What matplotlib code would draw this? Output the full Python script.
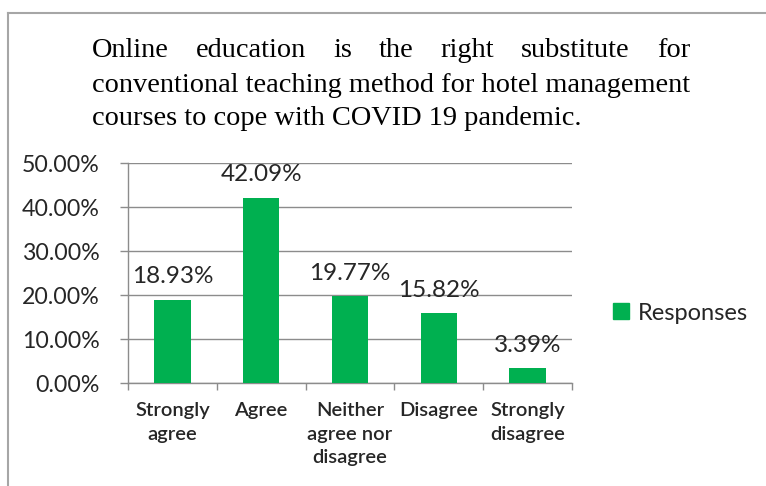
import matplotlib
matplotlib.use("Agg")
import matplotlib.pyplot as plt
from matplotlib.lines import Line2D
from matplotlib.patches import Patch
from matplotlib.ticker import FuncFormatter

categories = ["Strongly\nagree", "Agree", "Neither\nagree nor\ndisagree", "Disagree", "Strongly\ndisagree"]
values = [18.93, 42.09, 19.77, 15.82, 3.39]
yticks = [0, 10, 20, 30, 40, 50]
series_name = "Responses"
title_lines = ["Online education is the right substitute for",
               "conventional teaching method for hotel management",
               "courses to cope with COVID 19 pandemic."]

W, H = 766, 486
fig = plt.figure(figsize=(W / 100, H / 100), dpi=100)
fig.patch.set_facecolor("white")

green = "#00B050"
grid_c = "#8C8C8C"
sans = ["Lato", "DejaVu Sans"]
serif = ["Liberation Serif", "DejaVu Serif"]

ax = fig.add_axes([128 / W, 1 - 383 / H, (572 - 128) / W, (383 - 163) / H])
x = list(range(len(values)))
bars = ax.bar(x, values, width=0.41, color=green, zorder=3)
ax.set_xlim(-0.5, len(values) - 0.5)
ax.set_ylim(0, 50)
ax.set_yticks(yticks)
ax.yaxis.set_major_formatter(FuncFormatter(lambda v, p: f"{v:.2f}%"))
ax.yaxis.grid(True, color=grid_c, linewidth=1.0, zorder=0)
for s in ["top", "right"]:
    ax.spines[s].set_visible(False)
for s in ["left", "bottom"]:
    ax.spines[s].set_color(grid_c)
    ax.spines[s].set_linewidth(1.0)
ax.tick_params(axis="y", direction="out", length=5.8, color=grid_c, width=1.0,
               labelsize=16.7, labelcolor="#262626", pad=14.4)
for t in ax.get_yticklabels():
    t.set_family(sans)

# x ticks at category boundaries, labels at centers
ax.set_xticks([i - 0.5 for i in range(len(values) + 1)])
ax.set_xticklabels([])
ax.tick_params(axis="x", direction="out", length=5, color=grid_c, width=1.0)
ax.set_xticks(x, minor=True)
ax.set_xticklabels(categories, minor=True, family=sans, fontsize=14.5, fontweight="semibold",
                   color="#262626", linespacing=1.45, va="top")
ax.tick_params(axis="x", which="minor", length=0, pad=14)

for xi, v in zip(x, values):
    ax.annotate(f"{v:.2f}%", (xi, v), xytext=(0, 9), textcoords="offset points",
                ha="center", va="bottom", fontsize=17.5, family=sans, color="#262626",
                annotation_clip=False)

# legend
ax.legend(handles=[Patch(facecolor=green, edgecolor=green, label=series_name)],
          loc="center left", bbox_to_anchor=(606 / W, 1 - 313 / H), bbox_transform=fig.transFigure,
          frameon=False, prop={"family": sans, "size": 17}, handlelength=0.68, handleheight=0.68,
          handletextpad=0.35, borderaxespad=0, borderpad=0.3, labelcolor="#262626")

# border lines
fig.add_artist(Line2D([8 / W, 8 / W], [0, 1 - 13 / H], color="#A6A6A6", linewidth=1.5))
fig.add_artist(Line2D([8 / W, 1], [1 - 13 / H, 1 - 13 / H], color="#A6A6A6", linewidth=1.5))

# Title: justified first line
fig.canvas.draw()
renderer = fig.canvas.get_renderer()
left_px, right_px = 92, 690
fs = 16
baselines = [57, 92, 125]

def width_px(s, size):
    t = fig.text(0, 0, s, family=serif, fontsize=size)
    w = t.get_window_extent(renderer).width
    t.remove()
    return w

w2 = width_px(title_lines[1], fs)
fs = fs * (right_px - left_px) / w2

words = title_lines[0].split()
ww = [width_px(w_, fs) for w_ in words]
gap = (right_px - left_px - sum(ww)) / (len(words) - 1)
xpos = left_px
for w_, wd in zip(words, ww):
    fig.text(xpos / W, 1 - baselines[0] / H, w_, family=serif, fontsize=fs,
             ha="left", va="baseline", color="black")
    xpos += wd + gap
for line, b in zip(title_lines[1:], baselines[1:]):
    fig.text(left_px / W, 1 - b / H, line, family=serif, fontsize=fs,
             ha="left", va="baseline", color="black")

fig.savefig("out.png", dpi=100, facecolor="white")
